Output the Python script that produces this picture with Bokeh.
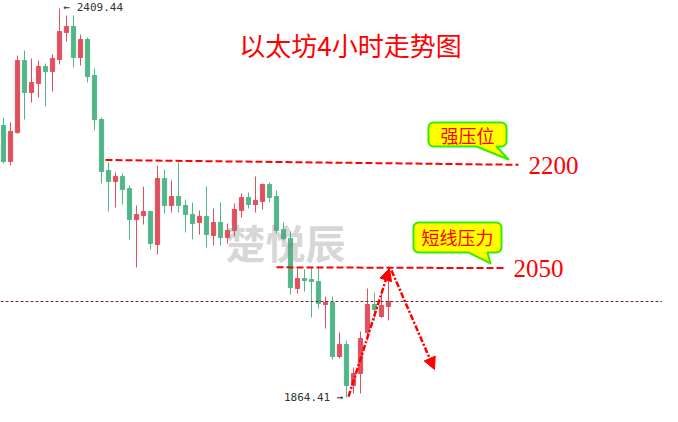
import numpy as np
from bokeh.plotting import figure
from bokeh.models import Range1d, Span, Arrow, NormalHead, ColumnDataSource
from bokeh.core.properties import value
from bokeh.embed import file_html
from bokeh.resources import INLINE

# ---------------- data (ETH 4h candles) ----------------
opens = [2245.5, 2195.1, 2235.7, 2336.6, 2291.7, 2304.4, 2328.2, 2321.2, 2338.0, 2375.8,
         2384.2, 2340.8, 2366.0, 2315.6, 2253.9, 2182.5, 2167.1, 2174.1, 2157.2, 2113.8,
         2119.4, 2125.0, 2078.8, 2171.3, 2133.4, 2146.0, 2133.4, 2120.8, 2109.6, 2118.0,
         2091.4, 2109.6, 2088.6, 2098.4, 2126.4, 2144.6, 2134.8, 2139.0, 2162.9, 2146.0,
         2099.8, 2087.2, 2017.1, 2031.1, 2029.7, 2026.9, 1994.7, 1997.5, 1921.9, 1938.7,
         1881.2, 1898.0, 1955.5, 1994.7, 1977.9, 1991.9]
highs = [2256.7, 2249.7, 2343.6, 2350.6, 2339.4, 2336.6, 2332.4, 2345.0, 2409.44, 2399.6,
         2399.6, 2373.0, 2368.8, 2325.4, 2256.7, 2193.7, 2179.7, 2178.3, 2161.4, 2133.4,
         2160.0, 2126.0, 2189.5, 2183.9, 2168.5, 2193.7, 2141.8, 2137.6, 2126.4, 2160.0,
         2129.2, 2137.6, 2108.2, 2136.2, 2150.2, 2151.6, 2174.1, 2164.3, 2165.7, 2154.4,
         2109.6, 2097.0, 2045.2, 2043.8, 2046.6, 2046.6, 2005.9, 2005.9, 1955.5, 1944.3,
         1906.4, 1956.9, 2017.1, 2011.5, 2010.1, 2048.0]
lows = [2192.3, 2189.5, 2234.0, 2253.9, 2277.7, 2284.7, 2272.1, 2293.2, 2331.0, 2363.2,
        2326.8, 2329.6, 2305.8, 2238.5, 2164.3, 2125.0, 2130.6, 2134.8, 2085.8, 2046.6,
        2106.8, 2071.8, 2064.8, 2122.2, 2123.6, 2123.6, 2095.6, 2085.8, 2092.8, 2074.6,
        2077.4, 2077.4, 2080.2, 2090.0, 2116.6, 2129.2, 2123.6, 2127.8, 2137.6, 2094.2,
        2084.4, 2008.7, 2010.1, 2012.9, 1976.5, 1989.1, 1961.1, 1917.7, 1919.1, 1864.41,
        1870.0, 1870.0, 1944.3, 1972.3, 1976.0, 1972.3]
closes = [2195.1, 2237.1, 2336.6, 2291.7, 2305.8, 2328.2, 2321.2, 2339.4, 2377.2, 2384.2,
          2340.8, 2366.0, 2314.2, 2253.9, 2181.1, 2167.1, 2174.1, 2155.8, 2113.8, 2120.8,
          2125.0, 2080.2, 2171.3, 2133.4, 2146.0, 2133.4, 2120.8, 2108.2, 2118.0, 2092.8,
          2109.6, 2088.6, 2098.4, 2127.8, 2144.6, 2134.8, 2140.4, 2162.9, 2144.6, 2098.4,
          2087.2, 2018.5, 2031.1, 2028.3, 2026.9, 1996.1, 1997.5, 1921.9, 1938.7, 1881.2,
          1898.0, 1947.1, 1994.7, 1987.7, 1993.3, 1998.9]

title_text = "以太坊4小时走势图"
watermark_text = "楚悦辰"

# resistance levels (label, line start/end in candle index and price)
level_labels = ["2200", "2050"]
level_x = [[14.57, 73.57], [39.0, 71.43]]
level_y = [[2197.2, 2190.45], [2046.8, 2045.7]]
level_label_x = [78.57, 76.43]
level_label_y = [2188.8, 2045.8]

# callout bubbles
bubble_texts = ["强压位", "短线压力"]
bubble_left = [60.71, 58.57]
bubble_right = [71.86, 71.14]
bubble_top = [2249.7, 2109.6]
bubble_bottom = [2216.1, 2067.6]
bubble_tail_l = [67.57, 66.43]
bubble_tail_r = [70.43, 69.14]
bubble_tip_x = [72.14, 69.57]
bubble_tip_y = [2197.9, 2052.2]

# projected path arrows (start -> end)
arrow_x0 = [49.29, 55.43]
arrow_y0 = [1865.8, 2042.4]
arrow_x1 = [55.14, 61.57]
arrow_y1 = [2045.2, 1903.6]

# ---------------- figure ----------------
UP = "#e0505e"
DOWN = "#52b788"
RED = "#ff0000"

p = figure(width=662, height=406,
           x_range=Range1d(-0.4286, 94.143), y_range=Range1d(1851.80, 2420.65),
           output_backend="svg", toolbar_location=None,
           x_axis_location=None, y_axis_location=None,
           min_border=0, min_border_left=0, min_border_right=0,
           min_border_top=0, min_border_bottom=0)
p.grid.visible = False
p.outline_line_color = None
p.background_fill_color = "white"
p.border_fill_color = "white"

idx = list(range(len(opens)))
colors = [UP if c >= o else DOWN for o, c in zip(opens, closes)]
src = ColumnDataSource(dict(
    x=idx, h=highs, l=lows,
    top=[max(o, c) for o, c in zip(opens, closes)],
    bottom=[min(o, c) for o, c in zip(opens, closes)],
    color=colors))

# current price dashed line
p.add_layout(Span(location=closes[-1], dimension="width", line_color="#7a2b2b",
                  line_width=1, line_dash="3 2"))

p.segment(x0="x", y0="h", x1="x", y1="l", line_color="color", line_width=1, source=src)
p.vbar(x="x", width=0.6, top="top", bottom="bottom", fill_color="color",
       line_color="color", line_width=1, source=src)

# watermark
p.text(x=[40.29], y=[2081.6], text=[watermark_text], text_font=value("Noto Sans CJK SC"),
       text_font_style="bold", text_font_size="40px", text_color="#808080", text_alpha=0.33,
       text_align="center", text_baseline="middle")

# title
p.text(x=[49.57], y=[2359.0], text=[title_text], text_font=value("Noto Sans CJK SC"),
       text_font_size="26px", text_color=RED, text_align="center", text_baseline="middle")

# high / low marks
imax = int(np.argmax(highs))
imin = int(np.argmin(lows))
p.text(x=[imax + 0.57], y=[2410.2], text=[f"\u2190 {highs[imax]:.2f}"],
       text_font=value("DejaVu Sans Mono"), text_font_size="11px", text_color="#333333",
       text_align="left", text_baseline="middle")
p.text(x=[imin - 0.43], y=[lows[imin]], text=[f"{lows[imin]:.2f} \u2192"],
       text_font=value("DejaVu Sans Mono"), text_font_size="11px", text_color="#333333",
       text_align="right", text_baseline="middle")

# resistance lines and labels
for lx, ly in zip(level_x, level_y):
    p.line(x=lx, y=ly, line_color=RED, line_width=2, line_dash="7 3")
p.text(x=level_label_x, y=level_label_y, text=level_labels,
       text_font=value("Liberation Serif"), text_font_size="25px", text_color=RED,
       text_align="center", text_baseline="middle")

# callout bubbles
RX = 5 / 7.0        # 5 px corner radius in x data units
RY = 5 * 1.4011     # 5 px corner radius in y data units


def bubble_poly(left, right, top, bottom, tl, tr, tipx, tipy, n=5):
    pts = []

    def arc(cx, cy, a0, a1):
        for t in np.linspace(a0, a1, n):
            pts.append((cx + RX * np.cos(t), cy + RY * np.sin(t)))

    arc(left + RX, top - RY, np.pi, np.pi / 2)
    arc(right - RX, top - RY, np.pi / 2, 0)
    arc(right - RX, bottom + RY, 0, -np.pi / 2)
    pts += [(tr, bottom), (tipx, tipy), (tl, bottom)]
    arc(left + RX, bottom + RY, -np.pi / 2, -np.pi)
    xs, ys = zip(*pts)
    return list(xs), list(ys)


for i, t in enumerate(bubble_texts):
    xs, ys = bubble_poly(bubble_left[i], bubble_right[i], bubble_top[i], bubble_bottom[i],
                         bubble_tail_l[i], bubble_tail_r[i], bubble_tip_x[i], bubble_tip_y[i])
    p.patch(xs, ys, fill_color="#ffff00", line_color="#33ee00", line_width=2, line_join="round")
    p.text(x=[(bubble_left[i] + bubble_right[i]) / 2], y=[(bubble_top[i] + bubble_bottom[i]) / 2],
           text=[t], text_font=value("Noto Sans CJK SC"), text_font_size="18px",
           text_color=RED, text_align="center", text_baseline="middle")

# projected path arrows
for x0, y0, x1, y1 in zip(arrow_x0, arrow_y0, arrow_x1, arrow_y1):
    p.add_layout(Arrow(end=NormalHead(size=12, fill_color=RED, line_color=RED, line_width=1),
                       x_start=x0, y_start=y0, x_end=x1, y_end=y1,
                       line_color=RED, line_width=2.5, line_dash="6 2 2 2"))

open("out.html", "w").write(file_html(p, INLINE))
